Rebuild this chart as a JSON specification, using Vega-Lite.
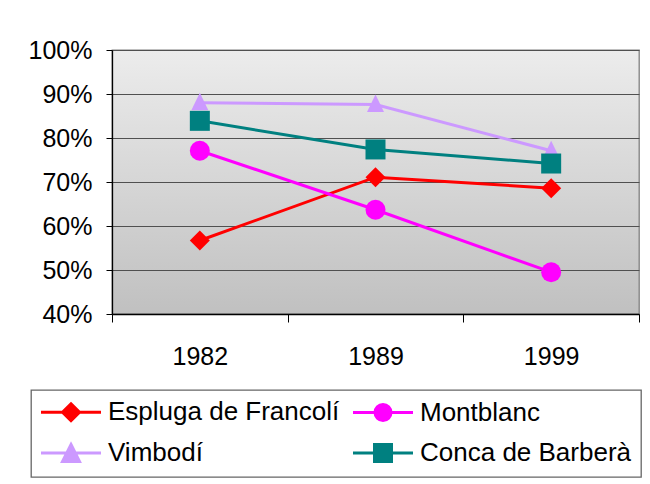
{
  "$schema": "https://vega.github.io/schema/vega-lite/v6.json",
  "width": 527,
  "height": 264,
  "autosize": "none",
  "padding": {"left": 112, "top": 50, "right": 11, "bottom": 170},
  "background": "white",
  "config": {
    "view": {
      "stroke": "#808080",
      "strokeWidth": 1.3,
      "fill": {"gradient": "linear", "x1": 0, "y1": 0, "x2": 0, "y2": 1, "stops": [{"offset": 0, "color": "#ececec"}, {"offset": 1, "color": "#c0c0c0"}]}
    },
    "font": "Liberation Sans"
  },
  "data": {
    "values": [
      {"series": "Espluga de Francolí", "year": "1982", "pct": 0.567},
      {"series": "Espluga de Francolí", "year": "1989", "pct": 0.711},
      {"series": "Espluga de Francolí", "year": "1999", "pct": 0.686},
      {"series": "Montblanc", "year": "1982", "pct": 0.771},
      {"series": "Montblanc", "year": "1989", "pct": 0.637},
      {"series": "Montblanc", "year": "1999", "pct": 0.495},
      {"series": "Vimbodí", "year": "1982", "pct": 0.880},
      {"series": "Vimbodí", "year": "1989", "pct": 0.876},
      {"series": "Vimbodí", "year": "1999", "pct": 0.771},
      {"series": "Conca de Barberà", "year": "1982", "pct": 0.839},
      {"series": "Conca de Barberà", "year": "1989", "pct": 0.774},
      {"series": "Conca de Barberà", "year": "1999", "pct": 0.742}
    ]
  },
  "encoding": {
    "x": {
      "field": "year",
      "type": "nominal",
      "sort": ["1982", "1989", "1999"],
      "bandPosition": 0.5,
      "scale": {"type": "band", "paddingInner": 0, "paddingOuter": 0},
      "axis": {
        "title": null,
        "labelAngle": 0,
        "tickBand": "extent",
        "tickSize": 8,
        "labelPadding": 22,
        "labelFont": "Liberation Sans",
        "labelFontSize": 25,
        "labelColor": "#000",
        "domainColor": "#000",
        "domainWidth": 1.3,
        "tickColor": "#000",
        "grid": false
      }
    },
    "y": {
      "field": "pct",
      "type": "quantitative",
      "scale": {"domain": [0.4, 1], "nice": false, "zero": false},
      "axis": {
        "title": null,
        "values": [0.4, 0.5, 0.6, 0.7, 0.8, 0.9, 1.0],
        "format": ".0%",
        "grid": true,
        "gridColor": "#505050",
        "gridWidth": 1.2,
        "gridOpacity": 1,
        "tickSize": 6,
        "tickColor": "#000",
        "domainColor": "#000",
        "domainWidth": 1.3,
        "labelPadding": 14,
        "labelFont": "Liberation Sans",
        "labelFontSize": 25,
        "labelColor": "#000"
      }
    }
  },
  "layer": [
    {
      "mark": {"type": "line", "strokeWidth": 3},
      "encoding": {
        "color": {
          "field": "series",
          "type": "nominal",
          "sort": null,
          "scale": {
            "domain": ["Espluga de Francolí", "Montblanc", "Vimbodí", "Conca de Barberà"],
            "range": ["#ff0000", "#ff00ff", "#cc99ff", "#008080"]
          },
          "legend": {
            "orient": "none",
            "legendX": -81,
            "legendY": 340,
            "title": null,
            "columns": 2,
            "direction": "horizontal",
            "labelFont": "Liberation Sans",
            "labelFontSize": 26,
            "labelColor": "#000",
            "labelOffset": 42,
            "labelLimit": 400,
            "symbolSize": 400,
            "symbolStrokeWidth": 3,
            "columnPadding": 7,
            "rowPadding": 11,
            "padding": 9,
            "strokeColor": "#666666",
            "encoding": {
              "symbols": {
                "shape": {"value": {"expr": "datum.value === 'Espluga de Francolí' ? 'M-1.2,0H4.8M1.8,-0.85L2.65,0L1.8,0.85L0.95,0Z' : datum.value === 'Montblanc' ? 'M-1.2,0H4.8M1,0A0.8,0.8,0,1,0,2.6,0A0.8,0.8,0,1,0,1,0Z' : datum.value === 'Vimbodí' ? 'M-1.2,0H4.8M1.8,-0.85L2.65,0.85L0.95,0.85Z' : 'M-1.2,0H4.8M0.95,-0.85H2.65V0.85H0.95Z'"}},
                "fill": {"value": {"expr": "scale('color', datum.value)"}},
                "stroke": {"value": {"expr": "scale('color', datum.value)"}},
                "strokeWidth": {"value": 3},
                "opacity": {"value": 1},
                "fillOpacity": {"value": 1}
              },
              "legend": {"strokeWidth": {"value": 1.3}}
            }
          }
        }
      }
    },
    {
      "transform": [{"filter": "datum.series === 'Espluga de Francolí'"}],
      "mark": {"type": "point", "filled": true, "size": 400, "opacity": 1, "color": "#ff0000", "shape": "M0,-1L1,0L0,1L-1,0Z"}
    },
    {
      "transform": [{"filter": "datum.series === 'Montblanc'"}],
      "mark": {"type": "point", "filled": true, "size": 400, "opacity": 1, "color": "#ff00ff", "shape": "circle"}
    },
    {
      "transform": [{"filter": "datum.series === 'Vimbodí'"}],
      "mark": {"type": "point", "filled": true, "size": 400, "opacity": 1, "color": "#cc99ff", "shape": "M0,-1L0.85,0.75L-0.85,0.75Z"}
    },
    {
      "transform": [{"filter": "datum.series === 'Conca de Barberà'"}],
      "mark": {"type": "point", "filled": true, "size": 400, "opacity": 1, "color": "#008080", "shape": "square"}
    }
  ]
}
